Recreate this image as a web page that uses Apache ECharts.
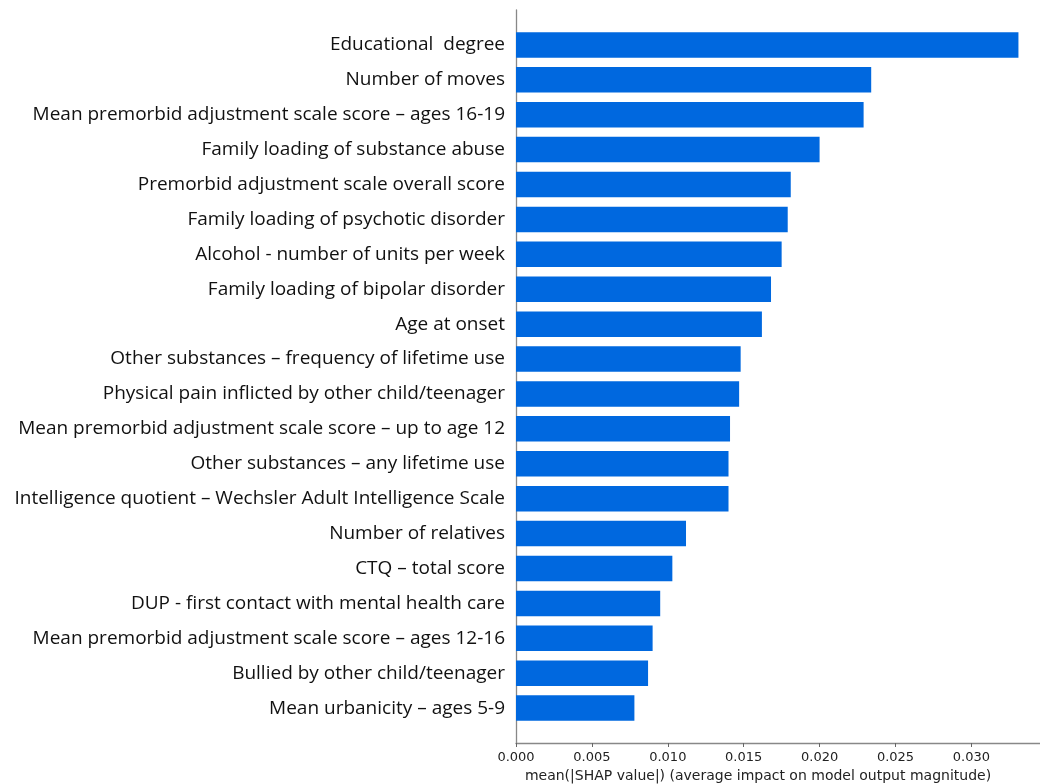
<!DOCTYPE html>
<html>
  <head>
    <meta charset="UTF-8">
    <title>SHAP feature importance</title>
    <script src="https://cdn.jsdelivr.net/npm/echarts@6/dist/echarts.min.js"></script>
    <style>
      html, body { margin: 0; padding: 0; background: #fff; }
      #chart { width: 1040px; height: 784px; }
    </style>
  </head>
  <body>
    <div id="chart"></div>
    <script type="text/javascript">
     // features, top to bottom
     var features = [
       'Educational  degree',
       'Number of moves',
       'Mean premorbid adjustment scale score \u2013 ages 16-19',
       'Family loading of substance abuse',
       'Premorbid adjustment scale overall score',
       'Family loading of psychotic disorder',
       'Alcohol - number of units per week',
       'Family loading of bipolar disorder',
       'Age at onset',
       'Other substances \u2013 frequency of lifetime use',
       'Physical pain inflicted by other child/teenager',
       'Mean premorbid adjustment scale score \u2013 up to age 12',
       'Other substances \u2013 any lifetime use',
       'Intelligence quotient \u2013 Wechsler Adult Intelligence Scale',
       'Number of relatives',
       'CTQ \u2013 total score',
       'DUP - first contact with mental health care',
       'Mean premorbid adjustment scale score \u2013 ages 12-16',
       'Bullied by other child/teenager',
       'Mean urbanicity \u2013 ages 5-9'
     ];
     // mean(|SHAP value|)
     var shapValues = [
       0.0331, 0.0234, 0.0229, 0.0200, 0.0181,
       0.0179, 0.0175, 0.0168, 0.0162, 0.0148,
       0.0147, 0.0141, 0.0140, 0.0140, 0.0112,
       0.0103, 0.0095, 0.0090, 0.0087, 0.0078
     ];
     var xTicks = { min: 0, max: 0.03452, interval: 0.005 };

     // half a row of empty space above and below, like the matplotlib ylim
     var cats = [''].concat(features, ['']);
     var vals = ['-'].concat(shapValues, ['-']);

     var chart = echarts.init(document.getElementById('chart'));
     chart.setOption({
       animation: false,
       backgroundColor: '#fff',
       grid: {
         left: 516, right: 0, top: 10, bottom: 41,
         containLabel: false,
         outerBoundsMode: 'none'
       },
       xAxis: {
         type: 'value',
         min: xTicks.min,
         max: xTicks.max,
         interval: xTicks.interval,
         splitLine: { show: false },
         axisLine: { show: true, lineStyle: { color: '#888', width: 1.3 } },
         axisTick: { show: true, length: 4, lineStyle: { color: '#666', width: 1 } },
         axisLabel: {
           showMaxLabel: false,
           margin: 8,
           color: '#222',
           fontFamily: 'DejaVu Sans',
           fontSize: 13,
           formatter: function (v) { return v.toFixed(3); }
         },
         name: 'mean(|SHAP value|) (average impact on model output magnitude)',
         nameLocation: 'middle',
         nameGap: 25,
         nameTextStyle: {
           color: '#222',
           fontFamily: 'DejaVu Sans',
           fontSize: 14,
           padding: [0, 40, 0, 0]
         }
       },
       yAxis: {
         type: 'category',
         data: cats,
         inverse: true,
         boundaryGap: false,
         axisLine: { show: true, lineStyle: { color: '#888', width: 1.3 } },
         axisTick: { show: false },
         splitLine: { show: false },
         axisLabel: {
           interval: 0,
           margin: 11,
           color: '#111',
           fontFamily: 'Open Sans',
           fontSize: 19
         }
       },
       series: [{
         type: 'bar',
         data: vals,
         barWidth: 25.5,
         itemStyle: { color: '#0068df' }
       }]
     });
    </script>
  </body>
</html>
